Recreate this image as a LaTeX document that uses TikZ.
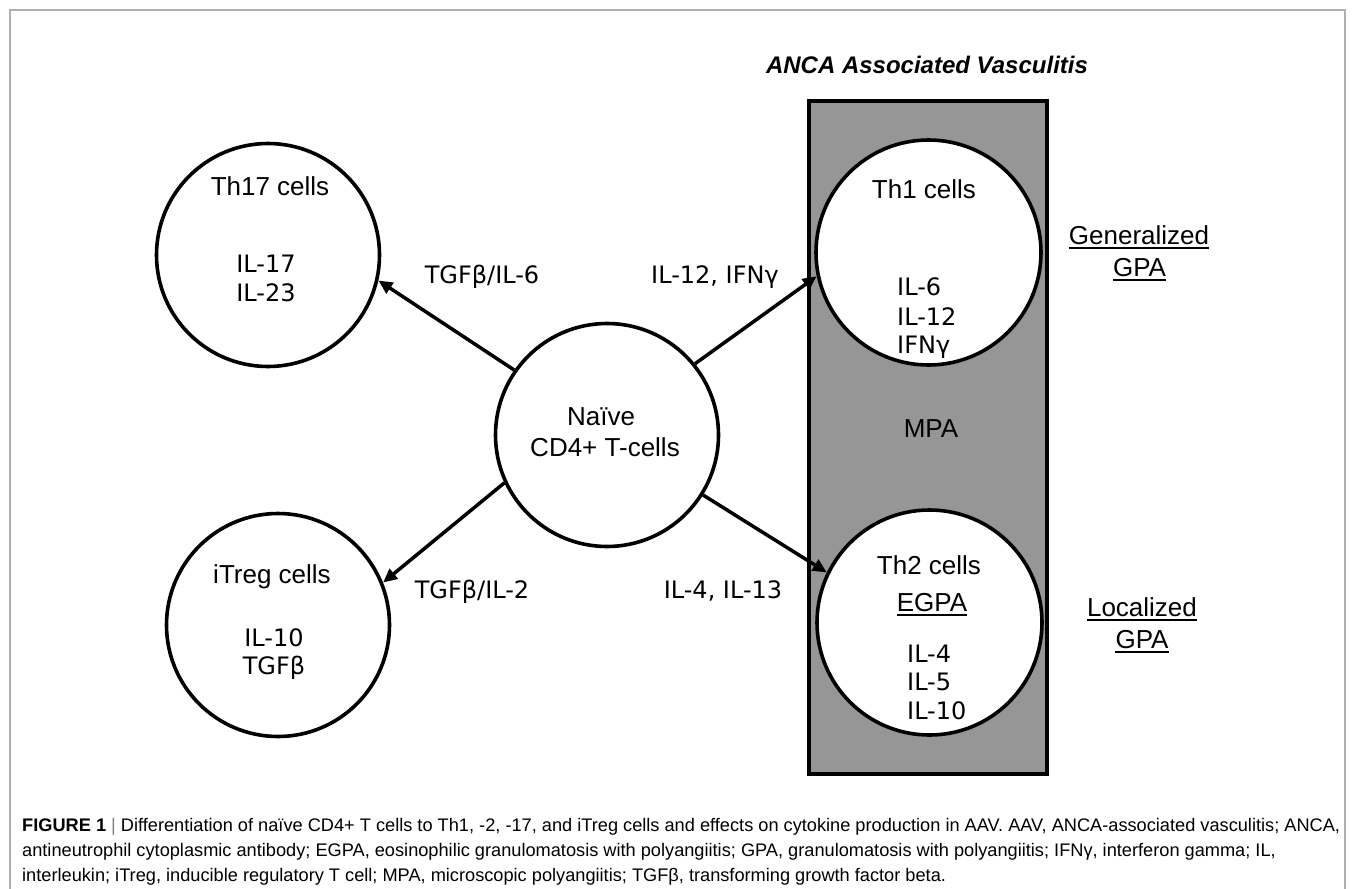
\documentclass[tikz,border=0pt]{standalone}
\usepackage{fontspec}
\setmainfont{Liberation Sans}
\newfontfamily\verd{DejaVu Sans}
\usetikzlibrary{arrows.meta}
\definecolor{boxgray}{RGB}{150,150,150}
\definecolor{framegray}{RGB}{175,175,175}
\begin{document}
\begin{tikzpicture}[x=1pt,y=-1pt,
  cell/.style={circle,draw=black,line width=3.6pt,fill=white,inner sep=0pt,minimum size=223pt},
  bigcell/.style={cell,minimum size=225pt},
  ar/.style={line width=3.5pt,-{Triangle[length=14pt,width=12.5pt]}},
  ttl/.style={font=\fontsize{26}{30}\selectfont,anchor=base,inner sep=0pt},
  cyt/.style={font=\verd\fontsize{24}{28}\selectfont,anchor=base,inner sep=0pt},
  cytl/.style={cyt,anchor=base west},
  ulab/.style={font=\fontsize{26}{30}\selectfont,anchor=base,inner sep=0pt},
  uline/.style={line width=1.8pt},
  captext/.style={font=\fontsize{18.2}{22}\selectfont,anchor=base west,inner sep=0pt}]
\useasboundingbox (0,0) rectangle (1355,889);
\draw[framegray,line width=1.2pt] (10,895) -- (10,10) -- (1345,10) -- (1345,895);
\node[anchor=base,inner sep=0pt,font=\bfseries\itshape\fontsize{24}{28}\selectfont] (title) at (927,73) {ANCA Associated Vasculitis};
\node[draw=black,fill=boxgray,line width=4pt,inner sep=0pt,minimum width=238pt,minimum height=673pt] (aav) at (928,437.5) {};
% circles
\node[cell] (th17) at (268,255) {};
\node[cell] (itreg) at (278,625) {};
\node[cell] (naive) at (607,435) {};
\node[bigcell] (th1) at (928.5,252.5) {};
\node[bigcell] (th2) at (929.5,622.5) {};
% texts in circles
\node[ttl] (th17t) at (270,195) {Th17 cells};
\node[cyt] (th17a) at (266,272.5) {IL-17};
\node[cyt] (th17b) at (266,301.5) {IL-23};
\node[ttl] (itregt) at (272,583) {iTreg cells};
\node[cyt] (itrega) at (274,646) {IL-10};
\node[cyt] (itregb) at (274,674) {TGFβ};
\node[ttl] (naivea) at (601,425) {Naïve};
\node[ttl] (naiveb) at (605,456) {CD4+ T-cells};
\node[ttl] (th1t) at (924,198) {Th1 cells};
\node[cytl] (th1a) at (897,295) {IL-6};
\node[cytl] (th1b) at (897,325) {IL-12};
\node[cytl] (th1c) at (897,353) {IFNγ};
\node[ttl] (mpa) at (931,437) {MPA};
\node[ttl] (th2t) at (929,574) {Th2 cells};
\node[ulab] (egpa) at (932,611) {EGPA};
\draw[uline] ([yshift=-4pt]egpa.base west) -- ([yshift=-4pt]egpa.base east);
\node[cytl] (th2a) at (907,662) {IL-4};
\node[cytl] (th2b) at (907,690) {IL-5};
\node[cytl] (th2c) at (907,719) {IL-10};
% right labels
\node[ulab] (gen) at (1139,244) {Generalized};
\draw[uline] ([yshift=-4pt]gen.base west) -- ([yshift=-4pt]gen.base east);
\node[ulab] (gpa1) at (1139.5,276) {GPA};
\draw[uline] ([yshift=-4pt]gpa1.base west) -- ([yshift=-4pt]gpa1.base east);
\node[ulab] (loc) at (1142,616) {Localized};
\draw[uline] ([yshift=-4pt]loc.base west) -- ([yshift=-4pt]loc.base east);
\node[ulab] (gpa2) at (1142,648) {GPA};
\draw[uline] ([yshift=-4pt]gpa2.base west) -- ([yshift=-4pt]gpa2.base east);
% arrows
\draw[ar] (naive.145.5) -- (th17.-13.5);
\draw[ar] (naive.39) -- (th1.192.7);
\draw[ar] (naive.205.7) -- (itreg.22.8);
\draw[ar] (naive.-32) -- (th2.154.2);
% arrow labels
\node[cyt] (l1) at (482,283) {TGFβ/IL-6};
\node[cyt] (l2) at (715,283) {IL-12, IFNγ};
\node[cyt] (l3) at (472,598) {TGFβ/IL-2};
\node[cyt] (l4) at (723,598) {IL-4, IL-13};
% caption
\node[captext] (cap1) at (22,831) {\textbf{FIGURE 1}\ {\color{gray}|}\ Differentiation of naïve CD4+ T cells to Th1, -2, -17, and iTreg cells and effects on cytokine production in AAV. AAV, ANCA-associated vasculitis; ANCA,};
\node[captext] (cap2) at (22,856) {antineutrophil cytoplasmic antibody; EGPA, eosinophilic granulomatosis with polyangiitis; GPA, granulomatosis with polyangiitis; IFNγ, interferon gamma; IL,};
\node[captext] (cap3) at (22,881) {interleukin; iTreg, inducible regulatory T cell; MPA, microscopic polyangiitis; TGFβ, transforming growth factor beta.};
\end{tikzpicture}
\end{document}
